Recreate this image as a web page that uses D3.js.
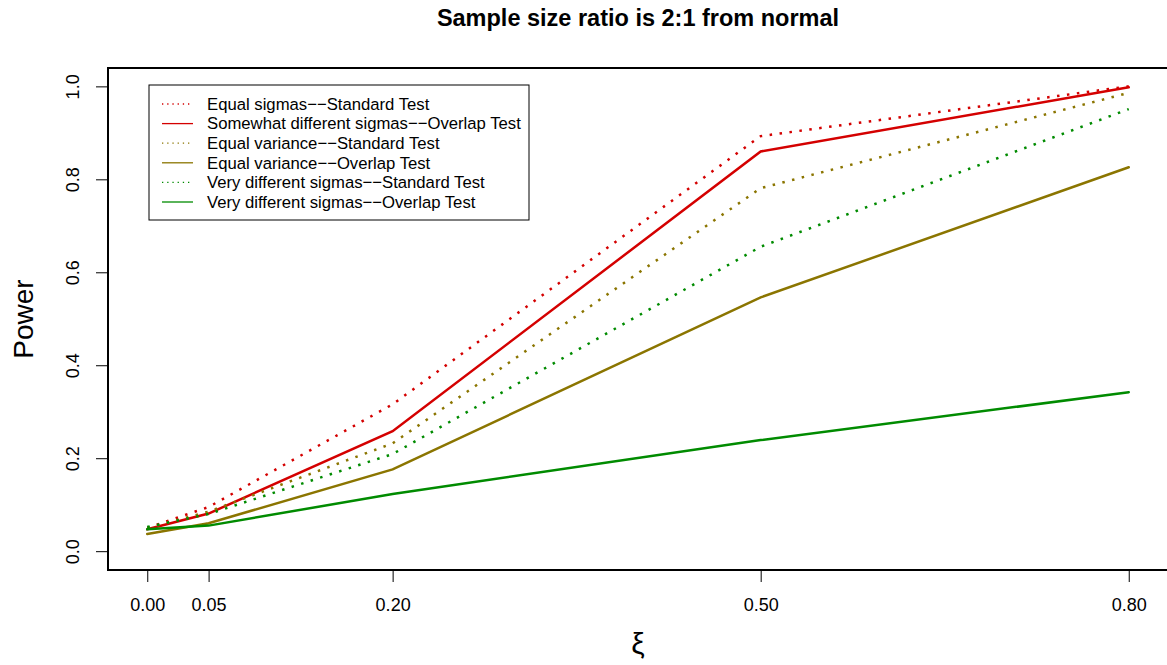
<!DOCTYPE html>
<html>
<head>
<meta charset="utf-8">
<script src="https://cdn.jsdelivr.net/npm/d3@7"></script>
<style>
  body { margin: 0; background: #fff; }
  text { font-family: "Liberation Sans", Arial, sans-serif; fill: #000; }
</style>
</head>
<body>
<div id="chart"></div>
<script>
const xi = [0, 0.05, 0.2, 0.5, 0.8];
const xTicks = ["0.00", "0.05", "0.20", "0.50", "0.80"];
const yTicks = [0, 0.2, 0.4, 0.6, 0.8, 1.0];

const equalSigmasStandard = [0.05, 0.095, 0.316, 0.893, 1.0];
const somewhatOverlap = [0.047, 0.081, 0.258, 0.86, 0.998];
const equalVarStandard = [0.05, 0.085, 0.232, 0.781, 0.986];
const equalVarOverlap = [0.037, 0.06, 0.176, 0.546, 0.826];
const veryDiffStandard = [0.052, 0.08, 0.209, 0.655, 0.951];
const veryDiffOverlap = [0.047, 0.055, 0.123, 0.239, 0.342];

const seriesNames = [
  "Equal sigmas\u2212\u2212Standard Test",
  "Somewhat different sigmas\u2212\u2212Overlap Test",
  "Equal variance\u2212\u2212Standard Test",
  "Equal variance\u2212\u2212Overlap Test",
  "Very different sigmas\u2212\u2212Standard Test",
  "Very different sigmas\u2212\u2212Overlap Test"
];

const red = "#d40000", olive = "#8b7500", green = "#008b00";
const series = [
  { name: seriesNames[0], values: equalSigmasStandard, color: red, dotted: true },
  { name: seriesNames[1], values: somewhatOverlap, color: red, dotted: false },
  { name: seriesNames[2], values: equalVarStandard, color: olive, dotted: true },
  { name: seriesNames[3], values: equalVarOverlap, color: olive, dotted: false },
  { name: seriesNames[4], values: veryDiffStandard, color: green, dotted: true },
  { name: seriesNames[5], values: veryDiffOverlap, color: green, dotted: false }
];

const width = 1167, height = 665;
const box = { left: 108, right: 1168, top: 68, bottom: 570 };

const x = d3.scaleLinear().domain([-0.032, 0.832]).range([box.left, box.right]);
const y = d3.scaleLinear().domain([-0.0405, 1.0395]).range([box.bottom, box.top]);

const svg = d3.select("#chart").append("svg")
  .attr("width", width)
  .attr("height", height);

// title
svg.append("text")
  .attr("x", (box.left + box.right) / 2)
  .attr("y", 26)
  .attr("text-anchor", "middle")
  .style("font-size", "23.5px")
  .style("font-weight", "bold")
  .text("Sample size ratio is 2:1 from normal");

// plot box
svg.append("rect")
  .attr("x", box.left).attr("y", box.top)
  .attr("width", box.right - box.left)
  .attr("height", box.bottom - box.top)
  .attr("fill", "none")
  .attr("stroke", "#000")
  .attr("stroke-width", 2);

// x axis
const xAxis = d3.axisBottom(x)
  .tickValues(xi)
  .tickFormat((d, i) => xTicks[i])
  .tickSize(12)
  .tickPadding(16);

const gx = svg.append("g")
  .attr("transform", `translate(0,${box.bottom})`)
  .call(xAxis);
gx.select(".domain").remove();
gx.selectAll(".tick line").attr("stroke", "#000").attr("stroke-width", 1);
gx.selectAll(".tick text")
  .style("font-size", "18px")
  .attr("font-family", null);

// y axis
const yAxis = d3.axisLeft(y)
  .tickValues(yTicks)
  .tickFormat(d3.format(".1f"))
  .tickSize(12)
  .tickPadding(0);

const gy = svg.append("g")
  .attr("transform", `translate(${box.left},0)`)
  .call(yAxis);
gy.select(".domain").remove();
gy.selectAll(".tick line").attr("stroke", "#000").attr("stroke-width", 1);
gy.selectAll(".tick text")
  .attr("x", null)
  .attr("font-family", null)
  .attr("text-anchor", "middle")
  .attr("transform", "translate(-35,0) rotate(-90)")
  .attr("dy", "0.35em")
  .style("font-size", "18px");

// axis titles
svg.append("text")
  .attr("transform", `translate(33,${(box.top + box.bottom) / 2}) rotate(-90)`)
  .attr("text-anchor", "middle")
  .style("font-size", "28px")
  .text("Power");

svg.append("text")
  .attr("x", (box.left + box.right) / 2)
  .attr("y", 654)
  .attr("text-anchor", "middle")
  .style("font-size", "30px")
  .text("\u03be");

// lines
const line = d3.line()
  .x((d, i) => x(xi[i]))
  .y(d => y(d));

svg.append("g")
  .selectAll("path")
  .data(series)
  .join("path")
  .attr("d", d => line(d.values))
  .attr("fill", "none")
  .attr("stroke", d => d.color)
  .attr("stroke-width", 2.5)
  .attr("stroke-linecap", d => d.dotted ? "butt" : "round")
  .attr("stroke-dasharray", d => d.dotted ? "2.5,7.5" : null);

// legend
const legend = svg.append("g").attr("transform", "translate(149,85)");
legend.append("rect")
  .attr("width", 380)
  .attr("height", 135)
  .attr("fill", "#fff")
  .attr("stroke", "#000")
  .attr("stroke-width", 1);

const items = legend.selectAll(".item")
  .data(series)
  .join("g")
  .attr("class", "item")
  .attr("transform", (d, i) => `translate(0,${19 + i * 19.6})`);

items.append("line")
  .attr("x1", 13).attr("x2", 44)
  .attr("stroke", d => d.color)
  .attr("stroke-width", 1.3)
  .attr("stroke-dasharray", d => d.dotted ? "1.3,3.9" : null);

items.append("text")
  .attr("x", 58)
  .attr("dy", "0.35em")
  .style("font-size", "16.7px")
  .text(d => d.name);
</script>
</body>
</html>
